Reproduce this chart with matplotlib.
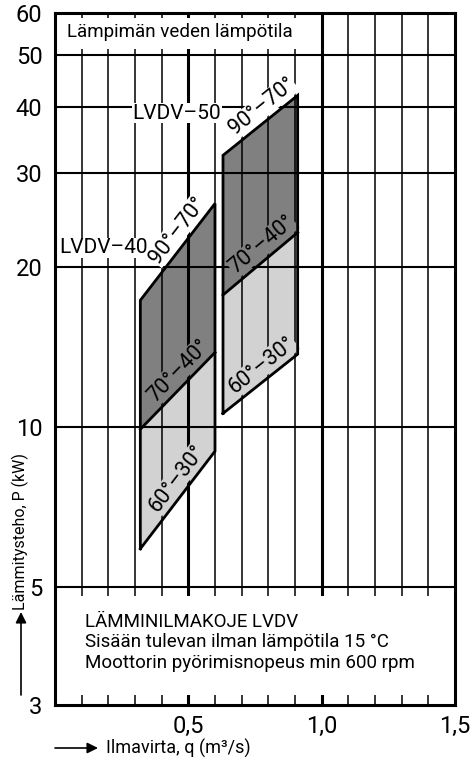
import matplotlib
matplotlib.use("Agg")
import matplotlib.pyplot as plt
import numpy as np
from matplotlib.ticker import NullLocator, NullFormatter
from matplotlib.patches import Rectangle

plt.rcParams["font.family"] = ["Roboto", "DejaVu Sans"]

# --- data ---
x_lvdv40 = [0.32, 0.60]
lvdv40_90_70 = [17.3, 26.3]
lvdv40_70_40 = [9.9, 13.8]
lvdv40_60_30 = [5.9, 9.0]

x_lvdv50 = [0.63, 0.91]
lvdv50_90_70 = [32.4, 42.0]
lvdv50_70_40 = [17.7, 23.2]
lvdv50_60_30 = [10.6, 13.7]

range_labels = ["90°–70°", "70°–40°", "60°–30°"]
y_ticks = [3, 5, 10, 20, 30, 40, 50, 60]
y_grid = [5, 10, 20, 30, 40, 50]
x_ticks = [0.5, 1.0, 1.5]
x_tick_labels = ["0,5", "1,0", "1,5"]
x_grid = [0.1, 0.2, 0.3, 0.4, 0.5, 0.6, 0.7, 0.8, 0.9, 1.0, 1.1, 1.2, 1.3, 1.4]
x_major = [0.5, 1.0]

title_text = "Lämpimän veden lämpötila"
info_lines = ["LÄMMINILMAKOJE LVDV",
              "Sisään tulevan ilman lämpötila 15 °C",
              "Moottorin pyörimisnopeus min 600 rpm"]

DARK = "#808080"
LIGHT = "#d2d2d2"

fig = plt.figure(figsize=(4.75, 7.65), dpi=100)
ax = fig.add_axes([55 / 475, 60 / 765, 400 / 475, 692 / 765])
ax.set_yscale("log")
ax.set_xlim(0, 1.5)
ax.set_ylim(3, 60)

# grid
for xv in x_grid:
    ax.axvline(xv, color="black", lw=2.2 if xv in x_major else 1.1, zorder=2)
for yv in y_grid:
    ax.axhline(yv, color="black", lw=1.5, zorder=2)

# white boxes over the grid (title strip, info strip)
ax.add_patch(Rectangle((0, 51.4), 0.93, 58.7 - 51.4, facecolor="white",
                       edgecolor="none", zorder=3))
ax.add_patch(Rectangle((0, 3.13), 1.5, 4.81 - 3.13, facecolor="white",
                       edgecolor="none", zorder=3))
ax.text(0.045, 55.3, title_text, fontsize=13.5, va="center", ha="left", zorder=4)
ax.text(0.075, 0.091, "\n".join(info_lines), transform=ax.transAxes,
        fontsize=13.5, va="center", ha="left", linespacing=1.18, zorder=4)


def draw_unit(x, top, mid, bot):
    ax.fill_between(x, mid, top, facecolor=DARK, edgecolor="none", zorder=1)
    ax.fill_between(x, bot, mid, facecolor=LIGHT, edgecolor="none", zorder=1)
    ax.plot([x[0], x[0], x[1], x[1], x[0]],
            [bot[0], top[0], top[1], bot[1], bot[0]],
            color="black", lw=2, zorder=6, solid_joinstyle="miter")
    ax.plot(x, mid, color="black", lw=2, zorder=6)
    # labels along each boundary, above the line
    for curve, lab, bg in zip([top, mid, bot], range_labels, ["white", DARK, LIGHT]):
        p0 = ax.transData.transform((x[0], curve[0]))
        p1 = ax.transData.transform((x[1], curve[1]))
        d = p1 - p0
        ang = np.degrees(np.arctan2(d[1], d[0]))
        u = d / np.hypot(*d)
        perp = np.array([-u[1], u[0]])
        pc = p0 + 0.64 * d + 13.5 * perp
        xd, yd = ax.transData.inverted().transform(pc)
        ax.text(xd, yd, lab, rotation=ang, rotation_mode="anchor",
                ha="center", va="center", fontsize=15.5, zorder=5,
                bbox=dict(facecolor=bg, edgecolor="none", pad=0.3))


draw_unit(x_lvdv40, lvdv40_90_70, lvdv40_70_40, lvdv40_60_30)
draw_unit(x_lvdv50, lvdv50_90_70, lvdv50_70_40, lvdv50_60_30)

ax.text(0.017, 21.7, "LVDV–40", fontsize=15, ha="left", va="center", zorder=4,
        bbox=dict(facecolor="white", edgecolor="none", pad=0.5))
ax.text(0.29, 38.9, "LVDV–50", fontsize=15, ha="left", va="center", zorder=4,
        bbox=dict(facecolor="white", edgecolor="none", pad=0.5))

# axes, ticks
ax.yaxis.set_minor_locator(NullLocator())
ax.yaxis.set_minor_formatter(NullFormatter())
ax.set_yticks(y_ticks)
ax.set_yticklabels([str(v) for v in y_ticks])
ax.set_xticks(x_ticks)
ax.set_xticklabels(x_tick_labels)
ax.tick_params(length=0, labelsize=17)
ax.tick_params(axis="y", pad=9)
ax.tick_params(axis="x", pad=7)
for sp in ax.spines.values():
    sp.set_linewidth(2.2)
    sp.set_zorder(10)

# axis titles with arrows
fig.text(20 / 475, (765 - 531) / 765, "Lämmitysteho, P (kW)", rotation=90,
         ha="center", va="center", fontsize=11.5)
ax.annotate("", xy=(21, 765 - 612), xytext=(21, 765 - 695),
            xycoords="figure pixels", textcoords="figure pixels",
            arrowprops=dict(arrowstyle="-|>", color="black", lw=1.2,
                            mutation_scale=16, shrinkA=0, shrinkB=0))
fig.text(106 / 475, 17 / 765, "Ilmavirta, q (m³/s)", ha="left", va="center",
         fontsize=13)
ax.annotate("", xy=(98, 17), xytext=(55, 17),
            xycoords="figure pixels", textcoords="figure pixels",
            arrowprops=dict(arrowstyle="-|>", color="black", lw=1.2,
                            mutation_scale=16, shrinkA=0, shrinkB=0))

fig.savefig("out.png", dpi=100)
